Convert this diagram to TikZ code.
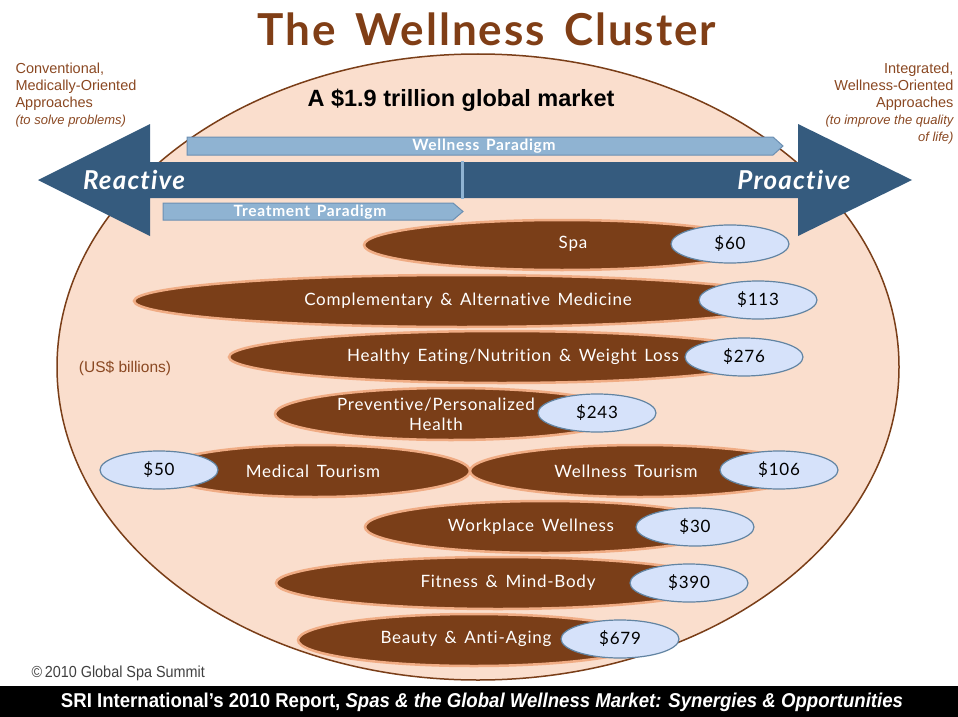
\documentclass[tikz,border=0pt]{standalone}
\usepackage{fontspec}
\setmainfont{Liberation Sans}
\newfontfamily\twfont[Ligatures=NoCommon, LetterSpace=4.5, WordSpace=1.5]{Lato}
\newfontfamily\narrowfont[FakeStretch=0.9]{Liberation Sans}
\newfontfamily\footfont[FakeStretch=0.93]{Liberation Sans}
\usetikzlibrary{shapes.geometric}

\definecolor{wbrown}{RGB}{122,62,24}
\definecolor{wglow}{RGB}{240,172,132}
\definecolor{wskin}{RGB}{250,222,205}
\definecolor{wtitle}{RGB}{128,62,22}
\definecolor{wnote}{RGB}{138,72,34}
\definecolor{wblue}{RGB}{53,91,126}
\definecolor{wbar}{RGB}{143,179,210}
\definecolor{wbarline}{RGB}{108,143,178}
\definecolor{woval}{RGB}{214,226,250}
\definecolor{wovalline}{RGB}{98,132,162}

\tikzset{
  brownell/.style={fill=wbrown, draw=wglow, line width=2.5},
  valoval/.style={ellipse, fill=woval, draw=wovalline, line width=1.2,
    minimum width=118, minimum height=38, inner sep=0,
    font=\twfont\fontsize{17}{17}\selectfont},
  lbl/.style={text=white, font=\twfont\fontsize{17}{20}\selectfont, align=center},
  barlbl/.style={text=white, font=\twfont\bfseries\fontsize{15.5}{15.5}\selectfont},
  dirlbl/.style={text=white, font=\twfont\bfseries\itshape\fontsize{26}{26}\selectfont},
  note/.style={text=wnote, font=\fontsize{14.5}{17}\selectfont}
}

\begin{document}
\begin{tikzpicture}[x=1pt,y=1pt,yscale=-1,xscale=1]
\useasboundingbox (0,0) rectangle (958,717);

%Shape: Big Ellipse
\draw [fill=wskin, draw=wbrown, line width=1.5] (478,367) ellipse [x radius=421, y radius=313];

%Double Arrow
\fill [wblue] (38,180) -- (150,124) -- (150,162) -- (798,162) -- (798,124) -- (912,180) -- (798,236) -- (798,198) -- (150,198) -- (150,236) -- cycle ;
%Straight Lines
\draw [wbar, line width=3] (462,161) -- (462,199) ;

%Paradigm bars
\draw [fill=wbar, draw=wbarline, line width=1] (187,137) -- (773,137) -- (783,146) -- (773,155) -- (187,155) -- cycle ;
\draw [fill=wbar, draw=wbarline, line width=1] (163,203) -- (453,203) -- (463,211.5) -- (453,220) -- (163,220) -- cycle ;

%Brown Ellipses
\draw [brownell] (562,245) ellipse [x radius=198, y radius=25];
\draw [brownell] (462,301) ellipse [x radius=328, y radius=26];
\draw [brownell] (502,357) ellipse [x radius=273, y radius=26];
\draw [brownell] (451,414) ellipse [x radius=176, y radius=26];
\draw [brownell] (315,471) ellipse [x radius=155, y radius=26];
\draw [brownell] (640,471) ellipse [x radius=170, y radius=26];
\draw [brownell] (545,527) ellipse [x radius=180, y radius=26];
\draw [brownell] (498,583) ellipse [x radius=222, y radius=26];
\draw [brownell] (474,640) ellipse [x radius=176, y radius=26];

%Value Ovals
\node [valoval] (v60) at (730,244) {\$60};
\node [valoval] (v113) at (758,300) {\$113};
\node [valoval] (v276) at (744,357) {\$276};
\node [valoval] (v243) at (597,413) {\$243};
\node [valoval] (v50) at (159,470) {\$50};
\node [valoval] (v106) at (779,470) {\$106};
\node [valoval] (v30) at (695,527) {\$30};
\node [valoval] (v390) at (689,583) {\$390};
\node [valoval] (v679) at (620,639) {\$679};

% Text Node
\node [lbl] (spa) at (573,244) {Spa};
% Text Node
\node [lbl] (cam) at (468,301) {Complementary \& Alternative Medicine};
% Text Node
\node [lbl] (eat) at (513,357) {Healthy Eating/Nutrition \& Weight Loss};
% Text Node
\node [lbl] (prev) at (436,414) {Preventive/Personalized\\Health};
% Text Node
\node [lbl] (medt) at (313,471) {Medical Tourism};
% Text Node
\node [lbl] (welt) at (626,471) {Wellness Tourism};
% Text Node
\node [lbl] (work) at (531,527) {Workplace Wellness};
% Text Node
\node [lbl] (fit) at (508,583) {Fitness \& Mind-Body};
% Text Node
\node [lbl] (beauty) at (466,639) {Beauty \& Anti-Aging};

% Text Node
\node [dirlbl] (reactive) at (134,180) {Reactive};
% Text Node
\node [dirlbl] (proactive) at (794,180) {Proactive};
% Text Node
\node [barlbl] (wpar) at (484,146) {Wellness Paradigm};
% Text Node
\node [barlbl] (tpar) at (310,212) {Treatment Paradigm};

% Text Node
\node [text=wtitle, font=\twfont\bfseries\fontsize{44}{44}\selectfont] (title) at (487,29) {The Wellness Cluster};
% Text Node
\node [font=\bfseries\fontsize{23.5}{23.5}\selectfont] (market) at (461,100) {A \$1.9 trillion global market};
% Text Node
\node [note, anchor=north west, align=left] (leftnote) at (12,59) {Conventional,\\Medically-Oriented\\Approaches\\{\fontsize{13}{17}\selectfont\itshape (to solve problems)}};
% Text Node
\node [note, anchor=north east, align=right] (rightnote) at (957,59) {Integrated,\\Wellness-Oriented\\Approaches\\{\fontsize{13}{17}\selectfont\itshape (to improve the quality}\\{\fontsize{13}{17}\selectfont\itshape of life)}};
% Text Node
\node [note, font=\fontsize{15.5}{17}\selectfont] (units) at (125,368) {(US\$ billions)};
% Text Node
\node [font=\narrowfont\fontsize{16}{16}\selectfont, text=black!75, anchor=west] (copy) at (28,673) {\textcopyright\,2010 Global Spa Summit};

%Footer bar
\fill [black] (0,686) rectangle (958,717);
% Text Node
\node [text=white, font=\footfont\bfseries\fontsize{20}{20}\selectfont] (report) at (482,702) {SRI International’s 2010 Report, \textit{Spas \& the Global Wellness Market: Synergies \& Opportunities}};

\end{tikzpicture}
\end{document}
